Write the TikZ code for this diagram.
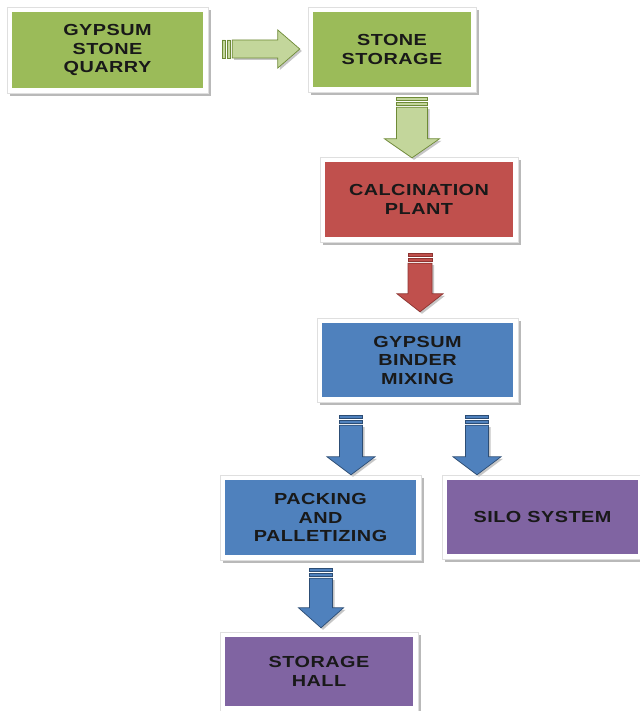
\documentclass[tikz,border=0pt]{standalone}
\usepackage{fontspec}
\setmainfont[FakeStretch=1.24,LetterSpace=3]{Liberation Sans}
\usetikzlibrary{calc,backgrounds}
\definecolor{ogreen}{HTML}{9BBB59}
\definecolor{ored}{HTML}{C0504D}
\definecolor{oblue}{HTML}{4F81BD}
\definecolor{opurple}{HTML}{8064A2}
\definecolor{agreen}{HTML}{C3D69B}
\definecolor{agreenline}{HTML}{6E8A36}
\definecolor{aredline}{HTML}{8E3431}
\definecolor{ablueline}{HTML}{2C4D75}
\newcommand\frameit[1]{%
  \begin{scope}[on background layer]
    \fill[gray!55] ($(#1.north west)+(-2,-2)$) rectangle ($(#1.south east)+(8,8)$);
    \filldraw[fill=white, draw=gray!25] ($(#1.north west)+(-5,-5)$) rectangle ($(#1.south east)+(5,5)$);
  \end{scope}}
% #1 top point, #2 tip point, #3 shaft half width, #4 head half width, #5 head length, #6 fill, #7 line
\newcommand\blockdown[7]{%
  \fill[gray!45] let \p1=#1, \p2=#2 in
    (\x1-#3pt+2pt,\y1-12pt) -- (\x1+#3pt+2pt,\y1-12pt) -- (\x1+#3pt+2pt,\y2+#5pt-2pt)
      -- (\x1+#4pt+2pt,\y2+#5pt-2pt) -- (\x1+2pt,\y2-2pt) -- (\x1-#4pt+2pt,\y2+#5pt-2pt)
      -- (\x1-#3pt+2pt,\y2+#5pt-2pt) -- cycle;
  \filldraw[fill=#6, draw=#7, line width=0.7pt] let \p1=#1, \p2=#2 in
    (\x1-#3pt,\y1-10pt) -- (\x1+#3pt,\y1-10pt) -- (\x1+#3pt,\y2+#5pt)
      -- (\x1+#4pt,\y2+#5pt) -- (\x1,\y2) -- (\x1-#4pt,\y2+#5pt) -- (\x1-#3pt,\y2+#5pt) -- cycle;
  \filldraw[fill=#6, draw=#7, line width=0.7pt] let \p1=#1 in
    (\x1-#3pt,\y1) rectangle (\x1+#3pt,\y1-3pt)
    (\x1-#3pt,\y1-5pt) rectangle (\x1+#3pt,\y1-8pt);}
\newcommand\blockright[7]{%
  \fill[gray!45] let \p1=#1, \p2=#2 in
    (\x1+12pt,\y1+#3pt-2pt) -- (\x2-#5pt+2pt,\y1+#3pt-2pt) -- (\x2-#5pt+2pt,\y1+#4pt-2pt)
      -- (\x2+2pt,\y1-2pt) -- (\x2-#5pt+2pt,\y1-#4pt-2pt) -- (\x2-#5pt+2pt,\y1-#3pt-2pt)
      -- (\x1+12pt,\y1-#3pt-2pt) -- cycle;
  \filldraw[fill=#6, draw=#7, line width=0.7pt] let \p1=#1, \p2=#2 in
    (\x1+10pt,\y1+#3pt) -- (\x2-#5pt,\y1+#3pt) -- (\x2-#5pt,\y1+#4pt)
      -- (\x2,\y1) -- (\x2-#5pt,\y1-#4pt) -- (\x2-#5pt,\y1-#3pt) -- (\x1+10pt,\y1-#3pt) -- cycle;
  \filldraw[fill=#6, draw=#7, line width=0.7pt] let \p1=#1 in
    (\x1,\y1+#3pt) rectangle (\x1+3pt,\y1-#3pt)
    (\x1+5pt,\y1+#3pt) rectangle (\x1+8pt,\y1-#3pt);}
\begin{document}
\begin{tikzpicture}[x=1pt,y=-1pt,
  box/.style={rectangle, inner sep=0pt, align=center, text=black!90,
    font=\bfseries\fontsize{16}{18.5}\selectfont}]
\useasboundingbox (0,0) rectangle (639,711);
\node[box, fill=ogreen, minimum width=191pt, minimum height=76pt] (q) at (107.5,50) {GYPSUM\\STONE\\QUARRY};
\node[box, fill=ogreen, minimum width=158pt, minimum height=75pt] (ss) at (392,49.5) {STONE\\STORAGE};
\node[box, fill=ored, minimum width=188pt, minimum height=75pt] (cp) at (419,199.5) {CALCINATION\\PLANT};
\node[box, fill=oblue, minimum width=191pt, minimum height=74pt] (bm) at (417.5,360) {GYPSUM\\BINDER\\MIXING};
\node[box, fill=oblue, minimum width=191pt, minimum height=75pt] (pk) at (320.5,517.5) {PACKING\\AND\\PALLETIZING};
\node[box, fill=opurple, minimum width=191pt, minimum height=74pt] (si) at (542.5,517) {SILO SYSTEM};
\node[box, fill=opurple, minimum width=188pt, minimum height=69pt] (sh) at (319,671.5) {STORAGE\\HALL};
\begin{scope}[on background layer]
  \fill[white] (0,0) rectangle (639,711);
\end{scope}
\frameit{q}\frameit{ss}\frameit{cp}\frameit{bm}\frameit{pk}\frameit{si}\frameit{sh}
\blockright{($(q.east)+(19,-1)$)}{($(ss.west)+(-13,0)$)}{9}{19}{22}{agreen}{agreenline}
\blockdown{($(ss.south)+(20,10)$)}{($(cp.north)+(-7,-4)$)}{15.5}{27.5}{19}{agreen}{agreenline}
\blockdown{($(cp.south)+(1,16)$)}{($(bm.north)+(0,-11)$)}{12}{23}{18}{ored}{aredline}
\blockdown{($(bm.south)+(-66.5,18)$)}{($(pk.north)+(30,-5)$)}{11.5}{24}{18}{oblue}{ablueline}
\blockdown{($(bm.south)+(59.5,18)$)}{($(si.north)+(-65,-5)$)}{11.5}{24}{18}{oblue}{ablueline}
\blockdown{($(pk.south)+(0.5,13)$)}{($(sh.north)+(0,-9)$)}{11.5}{22.5}{20}{oblue}{ablueline}
\end{tikzpicture}
\end{document}
